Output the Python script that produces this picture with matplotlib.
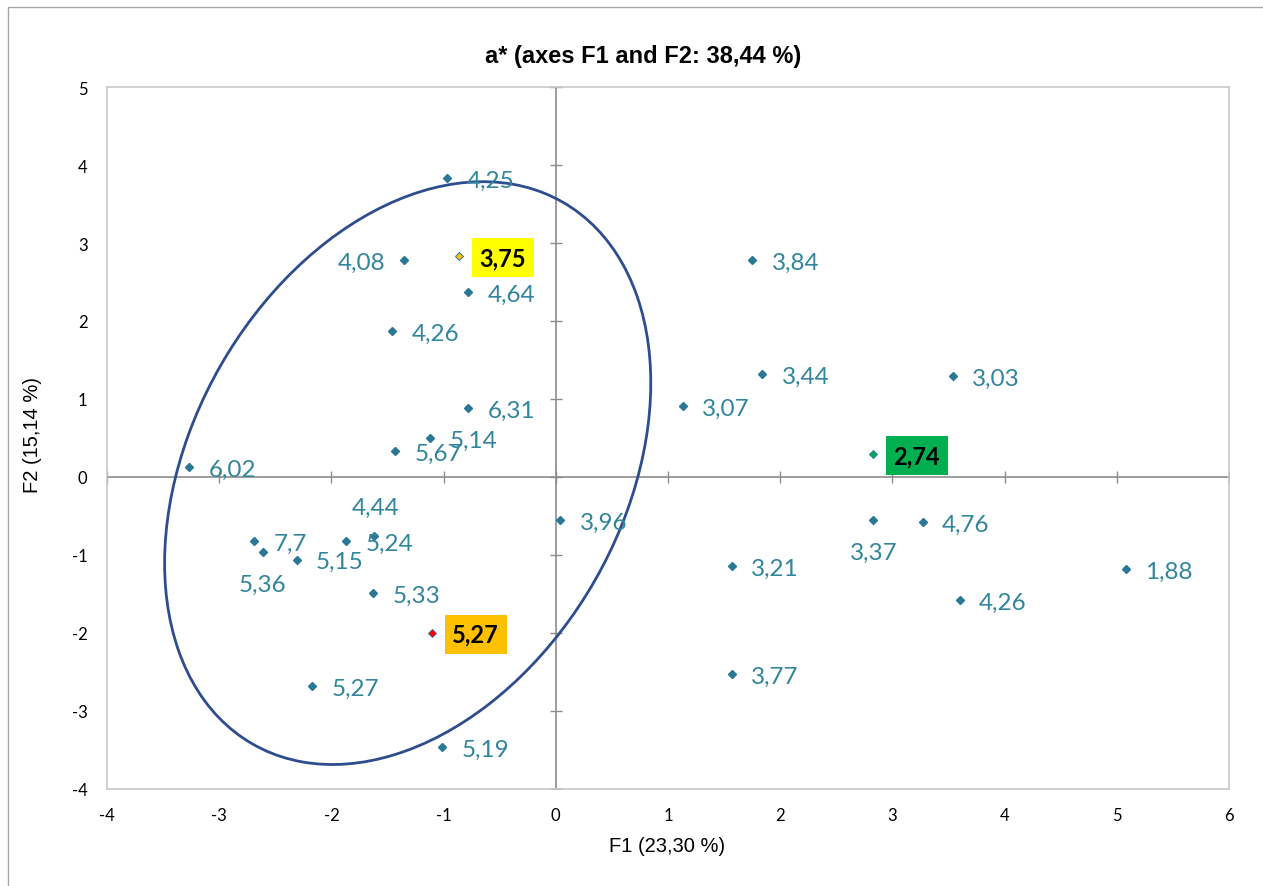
import numpy as np
import matplotlib.pyplot as plt
from matplotlib.patches import Ellipse, Rectangle

plt.rcParams['axes.unicode_minus'] = False

# ---- data ----
labels = ['4,25', '4,08', '3,75', '4,64', '4,26', '6,31', '5,14', '5,67', '6,02',
          '4,44', '5,24', '7,7', '5,36', '5,15', '5,33', '5,27', '5,27', '5,19',
          '3,96', '3,84', '3,44', '3,03', '3,07', '2,74', '3,37', '4,76', '3,21',
          '1,88', '4,26', '3,77']
f1 = [-0.97, -1.35, -0.86, -0.78, -1.46, -0.78, -1.12, -1.43, -3.27,
      -1.62, -1.87, -2.69, -2.61, -2.31, -1.63, -1.10, -2.17, -1.01,
      0.04, 1.75, 1.84, 3.54, 1.13, 2.83, 2.83, 3.27, 1.57,
      5.08, 3.60, 1.57]
f2 = [3.83, 2.78, 2.83, 2.37, 1.87, 0.88, 0.50, 0.33, 0.13,
      -0.76, -0.82, -0.82, -0.96, -1.06, -1.49, -2.00, -2.68, -3.46,
      -0.55, 2.78, 1.32, 1.29, 0.91, 0.29, -0.55, -0.58, -1.14,
      -1.18, -1.58, -2.53]

x_ticks = np.arange(-4, 7, 1)
y_ticks = np.arange(-4, 6, 1)

# confidence ellipse (centre, full width / height, angle in data units)
ell_center = (-1.32, 0.05)
ell_width = 7.64
ell_height = 4.03
ell_angle = 75.8

# label placement: r = right (default), l = left, a = above, b = below
place = {1: 'l', 9: 'a', 12: 'b', 24: 'b'}
# highlighted points: index -> (marker fill, box colour)
highlight = {2: ('#FFC000', '#FFFF00'), 15: ('#FF0000', '#FFC000'), 23: ('#00B050', '#00B050')}

pt_col = '#2A7896'
lab_col = '#31859C'
W, H = 1263, 887
arial = ['Liberation Sans', 'DejaVu Sans']
calibri = ['Lato', 'DejaVu Sans']

fig = plt.figure(figsize=(W / 100, H / 100), dpi=100)
ax = fig.add_axes([107 / W, 1 - 790 / H, (1229 - 107) / W, (790 - 88) / H])
ax.set_xlim(-4, 6)
ax.set_ylim(-4, 5)

# zero lines with crossing tick marks
ax.axhline(0, color='#8C8C8C', lw=1.2, zorder=1)
ax.axvline(0, color='#8C8C8C', lw=1.2, zorder=1)
ax.plot(x_ticks, np.zeros_like(x_ticks), ls='none', marker='|', ms=8, mew=1.0, color='#8C8C8C', zorder=1)
ax.plot(np.zeros_like(y_ticks), y_ticks, ls='none', marker='_', ms=8, mew=1.0, color='#8C8C8C', zorder=1)

ax.set_xticks(x_ticks)
ax.set_yticks(y_ticks)
ax.tick_params(length=0, labelsize=12)
ax.tick_params(axis='y', pad=14)
ax.tick_params(axis='x', pad=13)
for lab in ax.get_xticklabels() + ax.get_yticklabels():
    lab.set_family(calibri)
for s in ax.spines.values():
    s.set_color('#C8C8C8')
    s.set_linewidth(1.2)

ax.add_patch(Ellipse(ell_center, ell_width, ell_height, angle=ell_angle,
                     fill=False, ec='#2E4D8E', lw=2.0, zorder=2))

for i, (x, y, t) in enumerate(zip(f1, f2, labels)):
    if i in highlight:
        fc, box = highlight[i]
        ax.plot(x, y, ls='none', marker='D', ms=4.5, mfc=fc, mec=pt_col, mew=0.7, zorder=3)
        ax.annotate(t, (x, y), xytext=(14.4, -1), textcoords='offset points',
                    ha='left', va='center', fontsize=17, fontweight='bold', color='black',
                    family=calibri,
                    bbox=dict(boxstyle='square,pad=0.33', fc=box, ec='none'), zorder=4)
        continue
    ax.plot(x, y, ls='none', marker='D', ms=4.5, color=pt_col, zorder=3)
    side = place.get(i, 'r')
    if side == 'r':
        off, ha = (14, -1.5), 'left'
    elif side == 'l':
        off, ha = (-14, -1.5), 'right'
    elif side == 'a':
        off, ha = (1, 21), 'center'
    else:
        off, ha = (0, -23.5), 'center'
    ax.annotate(t, (x, y), xytext=off, textcoords='offset points', ha=ha, va='center',
                fontsize=17.5, color=lab_col, family=calibri, zorder=4)

fig.text(643.5 / W, 1 - 57 / H, 'a* (axes F1 and F2: 38,44 %)', ha='center', va='center',
         fontsize=17, fontweight='bold', family=arial)
fig.text(667 / W, 1 - 847 / H, 'F1 (23,30 %)', ha='center', va='center',
         fontsize=14.5, family=arial)
fig.text(33 / W, 1 - 435 / H, 'F2 (15,14 %)', ha='center', va='center', rotation=90,
         fontsize=14.5, family=arial)

# outer chart frame (only top and left edges visible)
fig.patches.append(Rectangle((8 / W, -0.05), 1.2, 1 - 8 / H + 0.05, transform=fig.transFigure,
                             fill=False, ec='#A6A6A6', lw=1.0))

fig.savefig('out.png', dpi=100)
